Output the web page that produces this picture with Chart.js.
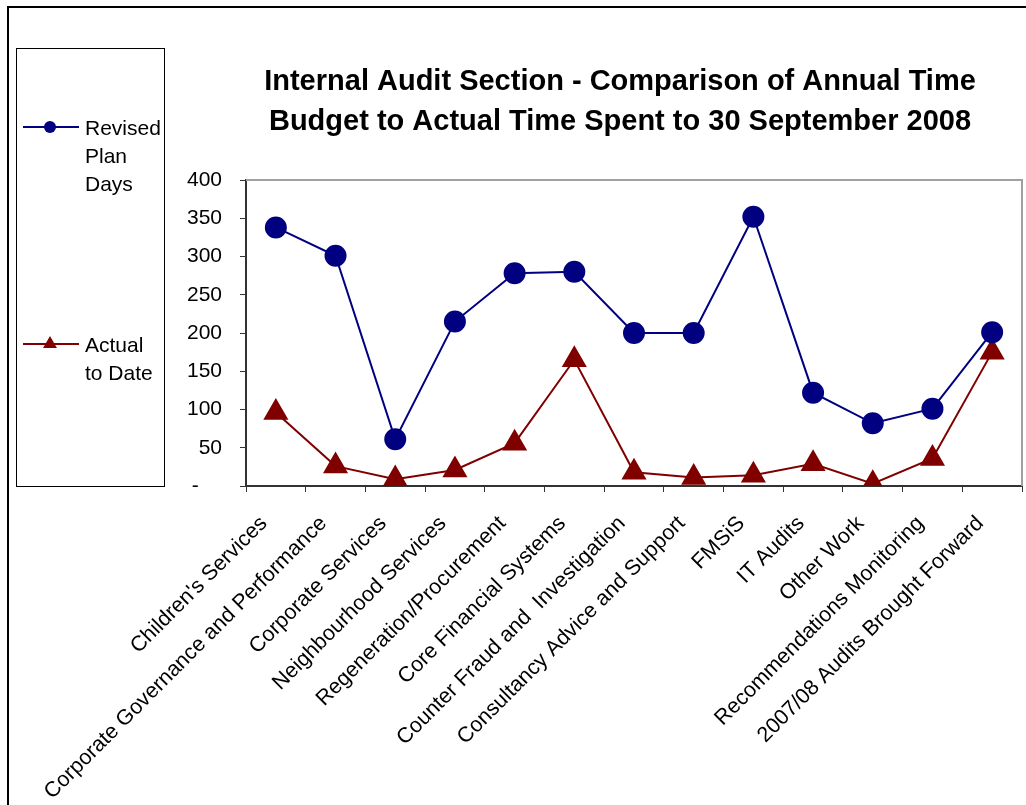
<!DOCTYPE html>
<html>
<head>
<meta charset="utf-8">
<script src="https://cdn.jsdelivr.net/npm/chart.js@4.4.0/dist/chart.umd.min.js"></script>
<style>
  html, body { margin: 0; padding: 0; background: #fff; }
  canvas { display: block; }
</style>
</head>
<body>
<canvas id="auditChart" width="1026" height="805"></canvas>
<script>
// Categories along the x axis
const categories = [
  "Children's Services",
  'Corporate Governance and Performance',
  'Corporate Services',
  'Neighbourhood Services',
  'Regeneration/Procurement',
  'Core Financial Systems',
  'Counter Fraud and  Investigation',
  'Consultancy Advice and Support',
  'FMSiS',
  'IT Audits',
  'Other Work',
  'Recommendations Monitoring',
  '2007/08 Audits Brought Forward'
];

// Series values (days)
const revisedPlanDays = [338, 301, 61, 215, 278, 280, 200, 200, 352, 122, 82, 101, 201];
const actualToDate = [96, 26, 9, 21, 56, 165, 18, 11, 14, 29, 3, 36, 175];

// Legend labels (wrapped the way the original legend box wraps them)
const revisedLabel = ['Revised', 'Plan', 'Days'];
const actualLabel = ['Actual', 'to Date'];

// Title lines
const titleLines = [
  'Internal Audit Section - Comparison of Annual Time',
  'Budget to Actual Time Spent to 30 September 2008'
];

const navy = '#000080';
const maroon = '#800000';
const fontFamily = '"Liberation Sans", Arial, sans-serif';

// Draws the outer frame, title, plot border and the boxed legend on the left
const excelDecor = {
  id: 'excelDecor',
  afterDraw(chart) {
    const ctx = chart.ctx;
    const area = chart.chartArea;
    ctx.save();

    // outer frame
    ctx.strokeStyle = '#000';
    ctx.lineWidth = 2;
    ctx.beginPath();
    ctx.moveTo(8, 805);
    ctx.lineTo(8, 7);
    ctx.lineTo(1026, 7);
    ctx.stroke();

    // grey top / right plot border
    ctx.strokeStyle = '#a0a0a0';
    ctx.lineWidth = 2;
    ctx.beginPath();
    ctx.moveTo(area.left, area.top);
    ctx.lineTo(area.right, area.top);
    ctx.lineTo(area.right, area.bottom);
    ctx.stroke();

    // title
    ctx.fillStyle = '#000';
    ctx.font = 'bold 29px ' + fontFamily;
    ctx.textAlign = 'center';
    ctx.textBaseline = 'alphabetic';
    titleLines.forEach((line, i) => ctx.fillText(line, 620, 90 + i * 40));

    // legend box
    ctx.strokeStyle = '#000';
    ctx.lineWidth = 1;
    ctx.strokeRect(16.5, 48.5, 148, 438);

    const entries = [
      { lines: revisedLabel, y: 127, ds: chart.data.datasets[0] },
      { lines: actualLabel, y: 344, ds: chart.data.datasets[1] }
    ];
    ctx.font = '21px ' + fontFamily;
    ctx.textAlign = 'left';
    entries.forEach(e => {
      ctx.strokeStyle = e.ds.borderColor;
      ctx.lineWidth = 2;
      ctx.beginPath();
      ctx.moveTo(23, e.y);
      ctx.lineTo(79, e.y);
      ctx.stroke();
      ctx.fillStyle = e.ds.pointBackgroundColor;
      Chart.helpers.drawPoint(ctx, {
        pointStyle: e.ds.pointStyle,
        radius: e.ds.pointStyle === 'triangle' ? 8 : 6,
        rotation: 0,
        borderWidth: 0
      }, 50, e.y);
      ctx.fillStyle = '#000';
      e.lines.forEach((t, i) => ctx.fillText(t, 85, e.y + 8 + i * 28));
    });

    ctx.restore();
  }
};

new Chart(document.getElementById('auditChart'), {
  type: 'line',
  data: {
    labels: categories,
    datasets: [
      {
        label: 'Revised Plan Days',
        data: revisedPlanDays,
        borderColor: navy,
        backgroundColor: navy,
        pointBackgroundColor: navy,
        pointBorderColor: navy,
        pointStyle: 'circle',
        pointRadius: 10,
        borderWidth: 2,
        tension: 0
      },
      {
        label: 'Actual to Date',
        data: actualToDate,
        borderColor: maroon,
        backgroundColor: maroon,
        pointBackgroundColor: maroon,
        pointBorderColor: maroon,
        pointStyle: 'triangle',
        pointRadius: 12.5,
        borderWidth: 2,
        tension: 0
      }
    ]
  },
  options: {
    responsive: false,
    animation: false,
    layout: {
      autoPadding: false,
      padding: { left: 186, top: 180, right: 4, bottom: 0 }
    },
    plugins: {
      legend: { display: false },
      title: { display: false },
      tooltip: { enabled: false }
    },
    scales: {
      x: {
        offset: true,
        afterFit: scale => {
          scale.height = 319;
          scale.paddingLeft = 0;
          scale.paddingRight = 0;
        },
        grid: {
          offset: true,
          drawOnChartArea: false,
          drawTicks: true,
          tickLength: 6,
          color: '#333'
        },
        border: { color: '#333', width: 2 },
        ticks: {
          autoSkip: false,
          maxRotation: 45,
          minRotation: 45,
          padding: 19,
          labelOffset: -12,
          color: '#000',
          font: { family: fontFamily, size: 21.5 }
        }
      },
      y: {
        min: 0,
        max: 400,
        afterFit: scale => { scale.width = 60; },
        grid: {
          drawOnChartArea: false,
          drawTicks: true,
          tickLength: 6,
          color: '#333'
        },
        border: { color: '#333', width: 2 },
        ticks: {
          stepSize: 50,
          padding: 18,
          color: '#000',
          font: { family: fontFamily, size: 21 },
          callback: v => (v === 0 ? '-    ' : v)
        }
      }
    }
  },
  plugins: [excelDecor]
});
</script>
</body>
</html>
